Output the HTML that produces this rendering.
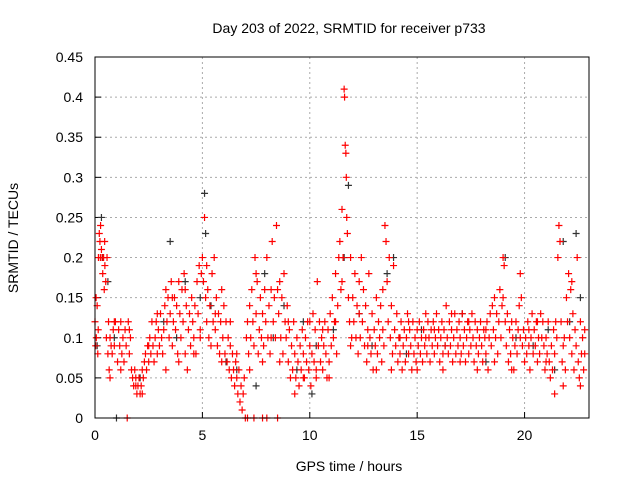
<!DOCTYPE html>
<html><head><meta charset="utf-8"><style>
body{margin:0;background:#fff}
svg text{font-family:"Liberation Sans",sans-serif;font-size:14px;fill:#000}
</style></head><body>
<svg id="chart" width="640" height="480">
<text x="349" y="33" text-anchor="middle">Day 203 of 2022, SRMTID for receiver p733</text>
<text x="349" y="471" text-anchor="middle">GPS time / hours</text>
<text transform="translate(18,238) rotate(-90)" text-anchor="middle">SRMTID / TECUs</text>
<g id="grid"></g><g id="marks"></g>
<rect x="95" y="57" width="494" height="361" fill="none" stroke="#000"/>
</svg>
<script>
const xTicks=[0,5,10,15,20];
const yTicks=[0,0.05,0.1,0.15,0.2,0.25,0.3,0.35,0.4,0.45];
const yTickLabels=["0","0.05","0.1","0.15","0.2","0.25","0.3","0.35","0.4","0.45"];
// [hour, value] samples
const blackSamples=[[0.1,0.09],[0.3,0.25],[0.35,0.2],[0.6,0.17],[0.9,0.1],[1.0,0],[2.1,0.05],[3.2,0.12],[3.5,0.22],[3.8,0.1],[4.2,0.17],[4.9,0.15],[5.1,0.28],[5.15,0.23],[5.4,0.14],[6.1,0.07],[6.6,0.06],[7.5,0.04],[7.9,0.18],[8.3,0.1],[8.8,0.14],[9.4,0.06],[9.7,0.12],[10.1,0.03],[10.3,0.09],[11.1,0.11],[11.6,0.2],[11.8,0.29],[12.3,0.13],[12.9,0.09],[13.6,0.18],[13.9,0.2],[14.5,0.08],[15.2,0.11],[16.3,0.09],[17.1,0.13],[18.2,0.07],[19.1,0.2],[19.6,0.1],[20.4,0.09],[21.1,0.11],[21.4,0.06],[21.8,0.22],[22.1,0.12],[22.4,0.23],[22.6,0.15]];
const redSamples=[
[0.0,0.12],[0.03,0.09],[0.06,0.1],[0.1,0.14],[0.13,0.08],[0.16,0.2],[0.2,0.23],[0.23,0.22],[0.26,0.24],[0.3,0.21],[0.33,0.2],[0.36,0.18],[0.4,0.2],[0.43,0.16],[0.46,0.19],[0.5,0.17],[0.53,0.1],[0.56,0.2],[0.6,0.08],[0.63,0.12],[0.66,0.06],[0.7,0.1],[0.75,0.09],[0.8,0.08],[0.85,0.11],[0.9,0.09],[0.95,0.12],[1.05,0.07],[1.1,0.11],[1.15,0.09],[1.2,0.12],[1.25,0.08],[1.3,0.1],[1.35,0.07],[1.4,0.11],[1.45,0.09],[1.55,0.12],[1.6,0.08],[1.65,0.1],[1.7,0.06],[1.75,0.05],[1.8,0.04],[1.85,0.06],[1.9,0.05],[1.95,0.03],[2.0,0.04],[2.05,0.05],[2.1,0.03],[2.15,0.04],[2.2,0.06],[2.25,0.05],[2.3,0.07],[2.35,0.08],[2.4,0.06],[2.45,0.09],[2.5,0.07],[2.55,0.1],[2.6,0.08],[2.65,0.12],[2.7,0.09],[2.75,0.07],[2.8,0.1],[2.85,0.12],[2.9,0.08],[2.95,0.11],[3.0,0.09],[3.05,0.13],[3.1,0.1],[3.15,0.08],[3.2,0.11],[3.25,0.14],[3.3,0.16],[3.35,0.12],[3.4,0.15],[3.45,0.1],[3.5,0.13],[3.55,0.17],[3.6,0.09],[3.65,0.12],[3.7,0.15],[3.75,0.11],[3.8,0.14],[3.85,0.08],[3.9,0.17],[3.95,0.13],[4.0,0.1],[4.05,0.16],[4.1,0.12],[4.15,0.18],[4.2,0.08],[4.25,0.14],[4.3,0.06],[4.35,0.11],[4.4,0.13],[4.45,0.09],[4.5,0.15],[4.55,0.12],[4.6,0.1],[4.65,0.14],[4.7,0.08],[4.75,0.17],[4.8,0.13],[4.85,0.19],[4.9,0.11],[4.95,0.18],[5.0,0.2],[5.05,0.17],[5.1,0.25],[5.15,0.15],[5.2,0.12],[5.25,0.16],[5.3,0.1],[5.35,0.14],[5.4,0.09],[5.45,0.18],[5.5,0.12],[5.55,0.2],[5.6,0.11],[5.65,0.15],[5.7,0.09],[5.75,0.13],[5.8,0.08],[5.85,0.12],[5.9,0.16],[5.95,0.1],[6.0,0.14],[6.05,0.08],[6.1,0.12],[6.15,0.07],[6.2,0.1],[6.25,0.06],[6.3,0.09],[6.35,0.05],[6.4,0.08],[6.45,0.06],[6.5,0.04],[6.55,0.07],[6.6,0.05],[6.65,0.03],[6.7,0.06],[6.75,0.02],[6.8,0.04],[6.85,0.01],[6.9,0.03],[6.95,0.05],[7.05,0.1],[7.1,0.12],[7.15,0.08],[7.2,0.14],[7.25,0.1],[7.3,0.16],[7.35,0.12],[7.4,0.09],[7.45,0.2],[7.5,0.13],[7.55,0.17],[7.6,0.08],[7.65,0.11],[7.7,0.15],[7.75,0.1],[7.8,0.13],[7.85,0.09],[7.9,0.16],[7.95,0.12],[8.0,0.2],[8.05,0.1],[8.1,0.14],[8.15,0.08],[8.2,0.16],[8.25,0.22],[8.3,0.12],[8.35,0.15],[8.4,0.1],[8.45,0.24],[8.5,0.16],[8.55,0.13],[8.6,0.17],[8.65,0.1],[8.7,0.15],[8.75,0.08],[8.8,0.18],[8.85,0.12],[8.9,0.1],[8.95,0.14],[9.0,0.07],[9.05,0.11],[9.1,0.05],[9.15,0.09],[9.2,0.06],[9.25,0.12],[9.3,0.08],[9.35,0.05],[9.4,0.1],[9.45,0.07],[9.5,0.04],[9.55,0.09],[9.6,0.06],[9.65,0.11],[9.7,0.08],[9.75,0.05],[9.8,0.1],[9.85,0.07],[9.9,0.12],[9.95,0.06],[10.0,0.09],[10.05,0.04],[10.1,0.08],[10.15,0.13],[10.2,0.07],[10.25,0.11],[10.3,0.06],[10.35,0.17],[10.4,0.09],[10.45,0.12],[10.5,0.07],[10.55,0.1],[10.6,0.06],[10.65,0.09],[10.7,0.12],[10.75,0.08],[10.8,0.05],[10.85,0.11],[10.9,0.07],[10.95,0.13],[11.0,0.09],[11.05,0.15],[11.1,0.1],[11.15,0.12],[11.2,0.18],[11.25,0.08],[11.3,0.14],[11.35,0.2],[11.4,0.22],[11.45,0.16],[11.5,0.26],[11.55,0.2],[11.6,0.41],[11.62,0.4],[11.65,0.34],[11.68,0.33],[11.7,0.3],[11.72,0.25],[11.75,0.23],[11.8,0.15],[11.85,0.12],[11.9,0.2],[11.95,0.1],[12.0,0.15],[12.05,0.12],[12.1,0.18],[12.15,0.1],[12.2,0.14],[12.25,0.08],[12.3,0.13],[12.35,0.1],[12.4,0.2],[12.45,0.12],[12.5,0.16],[12.55,0.09],[12.6,0.14],[12.65,0.07],[12.7,0.11],[12.75,0.18],[12.8,0.1],[12.85,0.08],[12.9,0.13],[12.95,0.06],[13.0,0.11],[13.05,0.09],[13.1,0.15],[13.15,0.08],[13.2,0.12],[13.25,0.1],[13.3,0.14],[13.35,0.07],[13.4,0.11],[13.45,0.09],[13.5,0.24],[13.55,0.22],[13.6,0.17],[13.65,0.12],[13.7,0.2],[13.75,0.1],[13.8,0.14],[13.85,0.08],[13.9,0.19],[13.95,0.11],[14.0,0.09],[14.05,0.13],[14.1,0.07],[14.15,0.1],[14.2,0.08],[14.25,0.12],[14.3,0.06],[14.35,0.09],[14.4,0.11],[14.45,0.07],[14.5,0.1],[14.55,0.13],[14.6,0.08],[14.65,0.11],[14.7,0.09],[14.75,0.06],[14.8,0.12],[14.85,0.08],[14.9,0.1],[14.95,0.07],[15.0,0.11],[15.05,0.09],[15.1,0.12],[15.15,0.08],[15.2,0.1],[15.25,0.07],[15.3,0.11],[15.35,0.09],[15.4,0.13],[15.45,0.08],[15.5,0.12],[15.55,0.1],[15.6,0.07],[15.65,0.11],[15.7,0.09],[15.75,0.12],[15.8,0.08],[15.85,0.1],[15.9,0.13],[15.95,0.09],[16.0,0.11],[16.05,0.07],[16.1,0.1],[16.15,0.12],[16.2,0.08],[16.25,0.11],[16.3,0.09],[16.35,0.14],[16.4,0.1],[16.45,0.08],[16.5,0.12],[16.55,0.09],[16.6,0.11],[16.65,0.07],[16.7,0.1],[16.75,0.13],[16.8,0.08],[16.85,0.11],[16.9,0.09],[16.95,0.12],[17.0,0.1],[17.05,0.08],[17.1,0.13],[17.15,0.09],[17.2,0.11],[17.25,0.07],[17.3,0.1],[17.35,0.12],[17.4,0.08],[17.45,0.11],[17.5,0.09],[17.55,0.13],[17.6,0.1],[17.65,0.07],[17.7,0.12],[17.75,0.09],[17.8,0.11],[17.85,0.08],[17.9,0.1],[17.95,0.12],[18.0,0.09],[18.05,0.07],[18.1,0.11],[18.15,0.1],[18.2,0.08],[18.25,0.12],[18.3,0.06],[18.35,0.1],[18.4,0.13],[18.45,0.09],[18.5,0.14],[18.55,0.11],[18.6,0.15],[18.65,0.1],[18.7,0.13],[18.75,0.08],[18.8,0.12],[18.85,0.16],[18.9,0.1],[18.95,0.14],[19.0,0.2],[19.05,0.19],[19.1,0.12],[19.15,0.09],[19.2,0.13],[19.25,0.07],[19.3,0.11],[19.35,0.08],[19.4,0.12],[19.45,0.1],[19.5,0.06],[19.55,0.09],[19.6,0.12],[19.65,0.08],[19.7,0.11],[19.75,0.14],[19.8,0.18],[19.85,0.15],[19.9,0.09],[19.95,0.11],[20.0,0.07],[20.05,0.1],[20.1,0.08],[20.15,0.12],[20.2,0.09],[20.25,0.06],[20.3,0.1],[20.35,0.13],[20.4,0.08],[20.45,0.11],[20.5,0.09],[20.55,0.12],[20.6,0.07],[20.65,0.1],[20.7,0.08],[20.75,0.13],[20.8,0.1],[20.85,0.12],[20.9,0.09],[20.95,0.06],[21.0,0.1],[21.05,0.08],[21.1,0.12],[21.15,0.07],[21.2,0.05],[21.25,0.09],[21.3,0.06],[21.35,0.11],[21.4,0.08],[21.45,0.12],[21.5,0.1],[21.55,0.2],[21.6,0.24],[21.65,0.22],[21.7,0.12],[21.75,0.07],[21.8,0.04],[21.85,0.1],[21.9,0.06],[21.95,0.15],[22.0,0.12],[22.05,0.18],[22.1,0.1],[22.15,0.16],[22.2,0.08],[22.25,0.13],[22.3,0.06],[22.35,0.11],[22.4,0.09],[22.45,0.2],[22.5,0.07],[22.55,0.05],[22.6,0.12],[22.65,0.08],[22.7,0.1],[22.75,0.06],[22.8,0.11],
[0.05,0.15],[0.15,0.11],[0.25,0.2],[0.45,0.22],[0.7,0.05],[0.9,0.12],[1.2,0.06],[1.6,0.11],[1.9,0.04],[2.2,0.03],[2.5,0.09],[2.9,0.13],[3.3,0.06],[3.6,0.15],[3.9,0.07],[4.2,0.16],[4.6,0.08],[4.9,0.1],[5.2,0.19],[5.6,0.13],[5.9,0.07],[6.3,0.12],[6.6,0.08],[7.2,0.06],[7.5,0.18],[7.8,0.07],[8.2,0.1],[8.6,0.07],[9.0,0.12],[9.3,0.03],[9.7,0.05],[10.0,0.12],[10.3,0.05],[10.6,0.11],[10.9,0.05],[11.2,0.12],[11.5,0.17],[11.9,0.09],[12.3,0.17],[12.7,0.09],[13.1,0.06],[13.4,0.16],[13.8,0.06],[14.2,0.1],[14.6,0.12],[15.0,0.06],[15.4,0.1],[15.8,0.11],[16.2,0.06],[16.6,0.13],[17.0,0.07],[17.4,0.12],[17.8,0.06],[18.2,0.11],[18.6,0.07],[19.0,0.15],[19.4,0.06],[19.8,0.1],[20.2,0.11],[20.6,0.12],[21.0,0.07],[21.4,0.03],[21.8,0.09],[22.2,0.17],[22.6,0.04],[22.8,0.08],
[1.5,0],[7.0,0],[7.1,0],[7.4,0],[7.8,0],[8.0,0],[8.5,0]];
const L=95,R=589,T=57,B=418,XMAX=23.0,YMAX=0.45;
const xs=h=>L+h/XMAX*(R-L), ys=v=>B-v/YMAX*(B-T);
const NS="http://www.w3.org/2000/svg";
const grid=document.getElementById('grid'), marks=document.getElementById('marks');
function mk(tag,attrs,parent){const e=document.createElementNS(NS,tag);for(const k in attrs)e.setAttribute(k,attrs[k]);parent.appendChild(e);return e;}
xTicks.forEach(t=>{const x=xs(t);
 if(t>0){const g=mk('line',{x1:x,x2:x,y1:T,y2:B,stroke:'#aaa','stroke-dasharray':'2,3'},grid);
 
 }
 const tk=mk('line',{x1:x,x2:x,y1:B,y2:B-6,stroke:'#000'},grid);
 
 
 const tx=mk('text',{x:x,y:B+22,'text-anchor':'middle'},grid);tx.textContent=t;
 
 
});
yTicks.forEach((t,i)=>{const y=ys(t);
 if(t>0&&t<YMAX){const g=mk('line',{x1:L,x2:R,y1:y,y2:y,stroke:'#aaa','stroke-dasharray':'2,3'},grid);
 
 }
 const tk=mk('line',{x1:L,x2:L+6,y1:y,y2:y,stroke:'#000'},grid);
 
 
 const tx=mk('text',{x:L-12,y:y+5,'text-anchor':'end'},grid);tx.textContent=yTickLabels[i];
 
 
});
function plus(h,v,color,name){const x=xs(h),y=ys(v);
 const p=mk('path',{d:`M${x-3.5},${y}h7M${x},${y-3.5}v7`,stroke:color,'stroke-width':1.2},marks);
 
 }
blackSamples.forEach(s=>plus(s[0],s[1],'#333','black-point'));
redSamples.forEach(s=>plus(s[0],s[1],'#f00','red-point'));
</script>
</body></html>
